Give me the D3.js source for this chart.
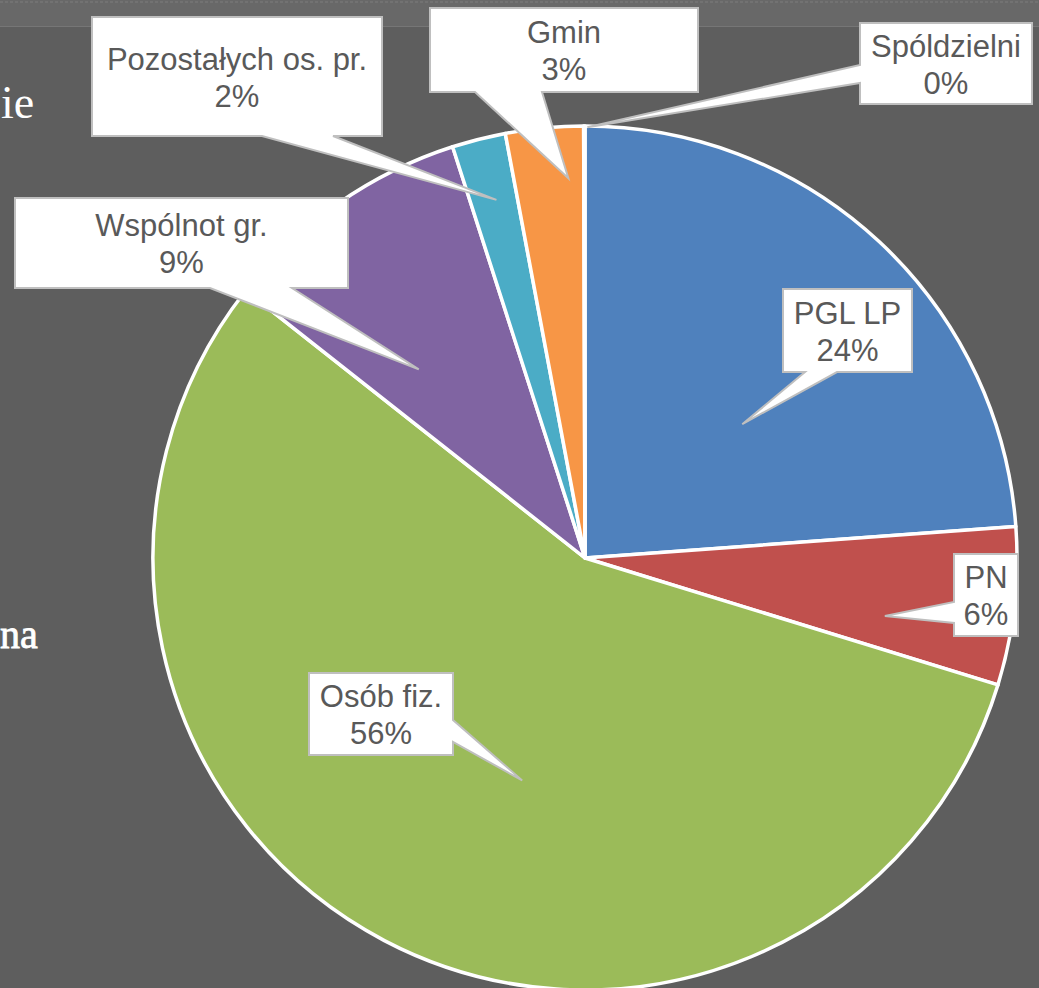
<!DOCTYPE html>
<html>
<head>
<meta charset="utf-8">
<script src="https://cdn.jsdelivr.net/npm/d3@7"></script>
<style>
  html, body { margin: 0; padding: 0; background: #5e5e5e; overflow: hidden; }
</style>
</head>
<body>
<div id="chart"></div>
<script>
// dane
const categories = ["PGL LP", "PN", "Osób fiz.", "Wspólnot gr.", "Pozostałych os. pr.", "Gmin", "Spóldzielni"];
const shares = [23.8, 5.9, 55.8, 9.4, 2.0, 2.9, 0.05];
const colors = ["#4f81bd", "#c0504d", "#9bbb59", "#8064a2", "#4bacc6", "#f79646", "#2c4d75"];

const width = 1039, height = 988;
const cx = 585, cy = 558, radius = 432;

const svg = d3.select("#chart")
    .append("svg")
    .attr("width", width)
    .attr("height", height);

// tlo slajdu
svg.append("rect")
    .attr("width", width).attr("height", height)
    .attr("fill", "#5e5e5e");
svg.append("rect")
    .attr("width", width).attr("height", 27)
    .attr("fill", "#686868");
svg.append("line")
    .attr("x1", 0).attr("x2", width).attr("y1", 26.5).attr("y2", 26.5)
    .attr("stroke", "#767676").attr("stroke-width", 1);
svg.append("line")
    .attr("x1", 0).attr("x2", width).attr("y1", 2).attr("y2", 2)
    .attr("stroke", "#7c7c7c").attr("stroke-width", 1)
    .attr("stroke-dasharray", "3,2");

// resztki tekstu slajdu z lewej
svg.append("text")
    .attr("x", 1).attr("y", 118)
    .attr("font-family", "'Liberation Serif', 'DejaVu Serif', serif")
    .attr("font-size", 46)
    .attr("fill", "#ffffff")
    .text("ie");
svg.append("text")
    .attr("x", 0).attr("y", 648)
    .attr("font-family", "'Liberation Serif', 'DejaVu Serif', serif")
    .attr("font-size", 40)
    .attr("fill", "#ffffff")
    .attr("stroke", "#ffffff")
    .attr("stroke-width", 0.8)
    .text("na");

const pie = d3.pie().sort(null).value(d => d)(shares);
const arc = d3.arc().innerRadius(0).outerRadius(radius);

const g = svg.append("g").attr("transform", `translate(${cx},${cy})`);

g.selectAll("path.slice")
    .data(pie)
    .join("path")
    .attr("class", "slice")
    .attr("d", arc)
    .attr("fill", (d, i) => colors[i])
    .attr("stroke", "#ffffff")
    .attr("stroke-width", 3.5)
    .attr("stroke-linejoin", "round");

// etykiety-objaśnienia (box, strona wypustki, podstawa wypustki, grot wzgl. środka wycinka)
const callouts = [
    {box: [783, 289, 129, 83], side: "bottom", base: [805, 837], dAng: 6.7, rf: 0.478},
    {box: [954, 554, 64, 82], side: "left", base: [602, 623], dAng: 4.5, rf: 0.707},
    {box: [309, 673, 144, 82], side: "right", base: [720, 742], dAng: -11.9, rf: 0.535},
    {box: [15, 198, 333, 90], side: "bottom", base: [210, 292], dAng: -6.6, rf: 0.582},
    {box: [92, 17, 290, 119], side: "bottom", base: [262, 333], dAng: 0.35, rf: 0.854},
    {box: [430, 8, 268, 84], side: "bottom", base: [475, 542], dAng: 2.9, rf: 0.88},
    {box: [860, 23, 172, 81], side: "left", base: [65, 83], dAng: 0.4, rf: 0.997}
];

function tipPoint(d, c) {
    const a = (d.startAngle + d.endAngle) / 2 + c.dAng * Math.PI / 180;
    const r = radius * c.rf;
    return [cx + r * Math.sin(a), cy - r * Math.cos(a)];
}

function calloutPath(c, tip) {
    const [x, y, w, h] = c.box;
    const x2 = x + w, y2 = y + h;
    const p = d3.path();
    p.moveTo(x, y);
    p.lineTo(x2, y);
    if (c.side === "right") {
        p.lineTo(x2, c.base[0]);
        p.lineTo(tip[0], tip[1]);
        p.lineTo(x2, c.base[1]);
    }
    p.lineTo(x2, y2);
    if (c.side === "bottom") {
        p.lineTo(c.base[1], y2);
        p.lineTo(tip[0], tip[1]);
        p.lineTo(c.base[0], y2);
    }
    p.lineTo(x, y2);
    if (c.side === "left") {
        p.lineTo(x, c.base[1]);
        p.lineTo(tip[0], tip[1]);
        p.lineTo(x, c.base[0]);
    }
    p.closePath();
    return p.toString();
}

const fmt = d3.format(".0%");
const total = d3.sum(shares);

const labels = svg.append("g")
    .selectAll("g.callout")
    .data(pie)
    .join("g")
    .attr("class", "callout");

labels.append("path")
    .attr("d", (d, i) => calloutPath(callouts[i], tipPoint(d, callouts[i])))
    .attr("fill", "#ffffff")
    .attr("stroke", "#bfbfbf")
    .attr("stroke-width", 2)
    .attr("stroke-linejoin", "miter");

const txt = labels.append("text")
    .attr("text-anchor", "middle")
    .attr("font-family", "'Liberation Sans', Arial, sans-serif")
    .attr("font-size", 31)
    .attr("fill", "#595959");

txt.append("tspan")
    .attr("x", (d, i) => callouts[i].box[0] + callouts[i].box[2] / 2)
    .attr("y", (d, i) => callouts[i].box[1] + callouts[i].box[3] / 2 - 7)
    .text((d, i) => categories[i]);

txt.append("tspan")
    .attr("x", (d, i) => callouts[i].box[0] + callouts[i].box[2] / 2)
    .attr("y", (d, i) => callouts[i].box[1] + callouts[i].box[3] / 2 + 30)
    .text(d => fmt(d.value / total));
</script>
</body>
</html>
